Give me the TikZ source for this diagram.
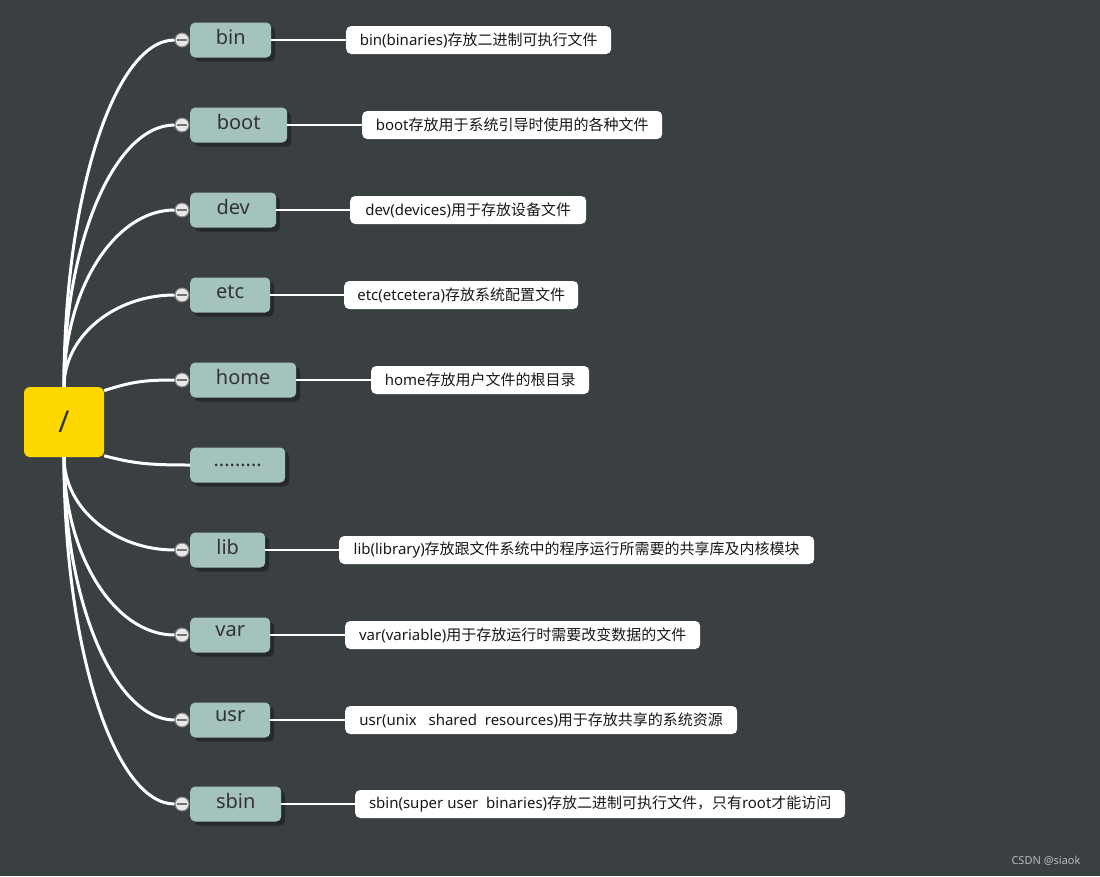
\documentclass[tikz,border=0pt]{standalone}
\usepackage{fontspec}
\setmainfont{Noto Sans}
\newfontfamily\cjk{Noto Sans CJK SC}
\usetikzlibrary{shadows}

\definecolor{board}{HTML}{3A3F42}
\definecolor{rootyellow}{HTML}{FFD800}
\definecolor{leaf}{HTML}{A3C3BC}
\definecolor{knobfill}{HTML}{E8E8E8}

\tikzset{
  rootbox/.style={fill=rootyellow, rounded corners=6pt, minimum width=80pt,
    minimum height=70pt, text=black!80, font=\fontsize{30}{30}\selectfont},
  dirbox/.style={fill=leaf, rounded corners=5pt, minimum height=35pt,
    text depth=7pt, text=black!80, font=\fontsize{20}{20}\selectfont,
    drop shadow={shadow xshift=4pt, shadow yshift=-4pt, opacity=.35, fill=black}},
  notebox/.style={fill=white, rounded corners=5pt, minimum height=28pt,
    anchor=west, text=black!90, font=\fontsize{15}{15}\selectfont},
  knob/.style={circle, fill=knobfill, draw=gray, line width=1pt,
    minimum size=14pt, inner sep=0pt,
    path picture={\draw[gray!90!black, line width=2pt]
      ([xshift=2pt]path picture bounding box.west) --
      ([xshift=-2pt]path picture bounding box.east);}},
  link/.style={draw=white, line width=3pt},
  twig/.style={draw=white, line width=2pt},
}

\begin{document}
\begin{tikzpicture}[x=1pt, y=-1pt]
    \fill[board] (0,0) rectangle (1100,876);

    \node[rootbox] (root) at (64,422) {/};

    % directories and their notes
    \foreach \n/\lbl/\w/\y/\dx/\dw/\txt in {
        bin/bin/81/40/346/265/{bin(binaries)\cjk 存放二进制可执行文件},
        boot/boot/97/125/362/300/{boot\cjk 存放用于系统引导时使用的各种文件},
        dev/dev/86/210/350/236/{dev(devices)\cjk 用于存放设备文件},
        etc/etc/80/295/344/234/{etc(etcetera)\cjk 存放系统配置文件},
        home/home/106/380/371/218/{home\cjk 存放用户文件的根目录},
        lib/lib/75/550/339/475/{lib(library)\cjk 存放跟文件系统中的程序运行所需要的共享库及内核模块},
        var/var/80/635/345/355/{var(variable)\cjk 用于存放运行时需要改变数据的文件},
        usr/usr/80/720/345/392/{usr(unix\ \ \ shared\ \ resources)\cjk 用于存放共享的系统资源},
        sbin/sbin/91/804/355/490/{sbin(super user\ \ binaries)\cjk 存放二进制可执行文件，只有root才能访问}}
    {
        \node[dirbox, minimum width=\w, anchor=west] (\n) at (190,\y) {\lbl};
        \node[knob] (k-\n) at (182,\y) {};
        \node[notebox, minimum width=\dw] (d-\n) at (\dx,\y) {\txt};
        \draw[twig] (\n) -- (d-\n);
    }
    \node[dirbox, minimum width=95, anchor=west, text depth=0pt] (dots) at (190,465) {.........};

    % branches from the root
    \foreach \n/\y in {bin/40,boot/125,dev/210,etc/295}{
        \pgfmathsetmacro\c{0.55*(387-\y)}
        \draw[link] (root.north) .. controls +(0,-\c) and +(-60,0) .. (k-\n.west);
    }
    \foreach \n/\y in {lib/550,var/635,usr/720,sbin/804}{
        \pgfmathsetmacro\c{0.55*(\y-457)}
        \draw[link] (root.south) .. controls +(0,\c) and +(-60,0) .. (k-\n.west);
    }
    \draw[link] (root.38) .. controls +(28,-9) and +(-30,0) .. (k-home.west);
    \draw[link] (root.-40) .. controls +(30,8) and +(-40,0) .. (dots.west);

    \node[anchor=east, text=gray!55, font=\fontsize{11}{11}\selectfont]
        (mark) at (1084,861) {CSDN @siaok};
\end{tikzpicture}
\end{document}
